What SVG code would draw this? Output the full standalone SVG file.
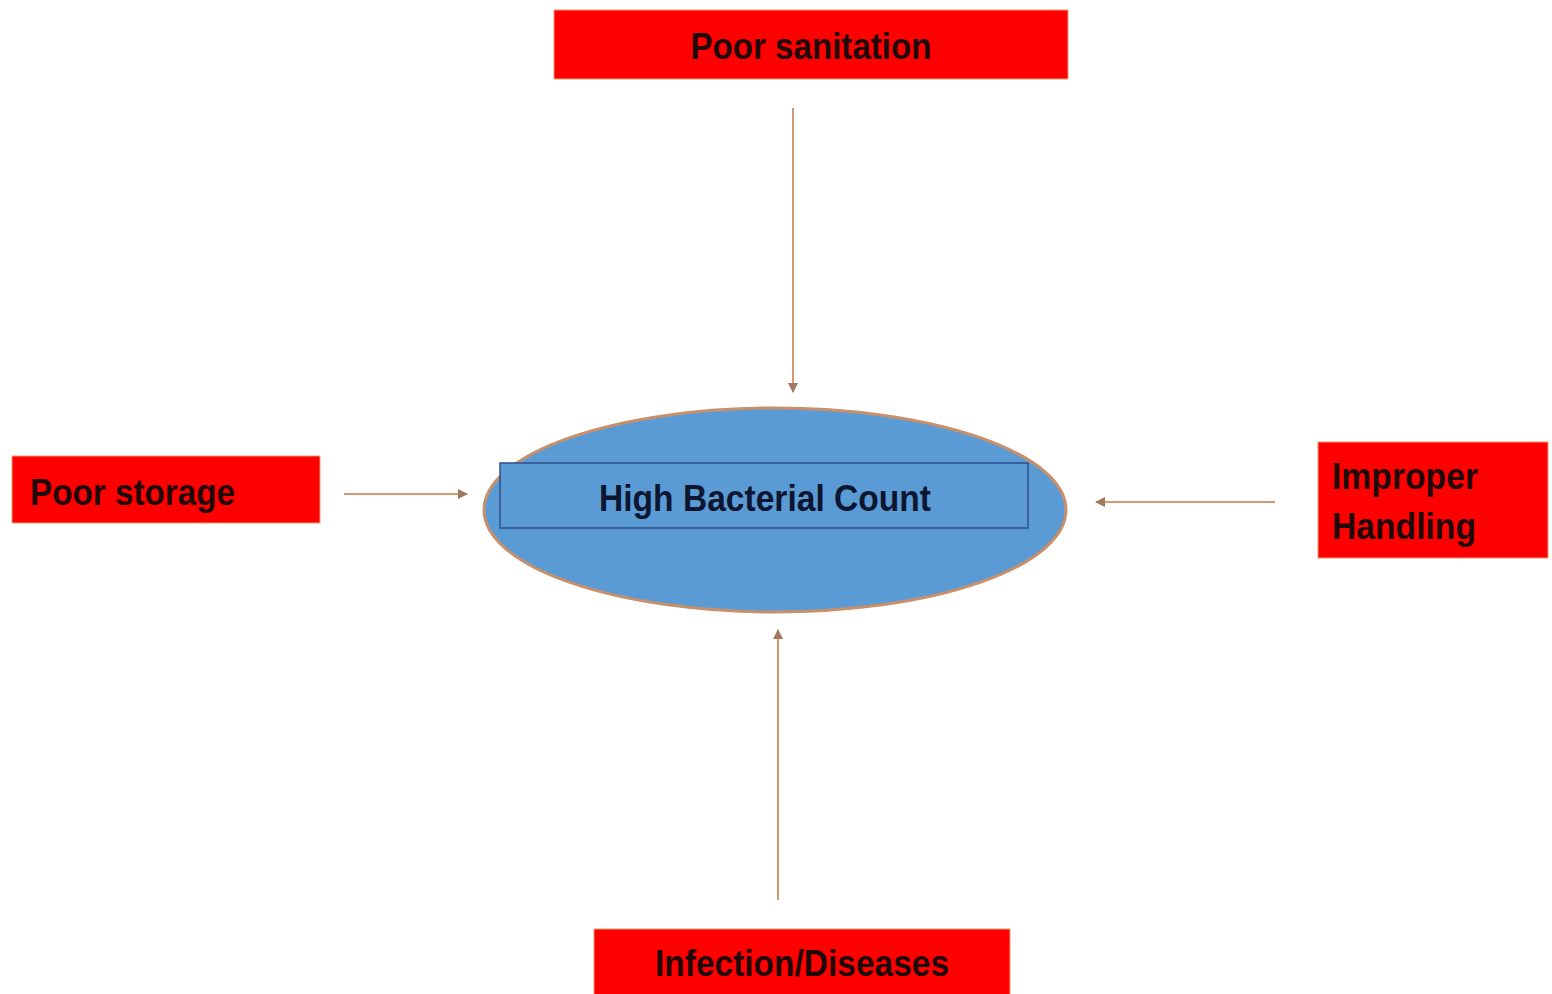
<svg xmlns="http://www.w3.org/2000/svg" width="1552" height="994" viewBox="0 0 1552 994">
<style>
.box{fill:#ff0000;stroke:#e8a070;stroke-width:1}
.lbl{font-family:"Liberation Sans",Arial,sans-serif;font-weight:bold;font-size:37px;fill:#1e0808}
.conn{stroke:#d29a72;stroke-width:2;fill:none}
</style>
<defs>
<marker id="ah" viewBox="0 0 10 10" refX="9" refY="5" markerWidth="5" markerHeight="5" orient="auto">
<path d="M0,0 L10,5 L0,10 z" fill="#a07860"/>
</marker>
</defs>
<rect width="1552" height="994" fill="#ffffff"/>
<g id="connectors">
<line class="conn" x1="793" y1="108" x2="793" y2="392" marker-end="url(#ah)"/>
<line class="conn" x1="344" y1="494" x2="467" y2="494" marker-end="url(#ah)"/>
<line class="conn" x1="1275" y1="502" x2="1096" y2="502" marker-end="url(#ah)"/>
<line class="conn" x1="778" y1="900" x2="778" y2="630" marker-end="url(#ah)"/>
</g>
<g id="center">
<ellipse cx="775" cy="510" rx="291" ry="102" fill="#5b9bd5" stroke="#c8906a" stroke-width="3"/>
<rect x="500" y="463" width="528" height="65" fill="#5b9bd5" stroke="#2f4f8f" stroke-width="1.5"/>
<text class="lbl" x="765" y="511" text-anchor="middle" style="fill:#0c1630" textLength="332" lengthAdjust="spacingAndGlyphs">High Bacterial Count</text>
</g>
<g id="poor-sanitation">
<rect class="box" x="554" y="10" width="514" height="69"/>
<text class="lbl" x="811" y="59" text-anchor="middle" textLength="241" lengthAdjust="spacingAndGlyphs">Poor sanitation</text>
</g>
<g id="poor-storage">
<rect class="box" x="12" y="456" width="308" height="67"/>
<text class="lbl" x="30" y="505" textLength="205" lengthAdjust="spacingAndGlyphs">Poor storage</text>
</g>
<g id="improper-handling">
<rect class="box" x="1318" y="442" width="230" height="116"/>
<text class="lbl" x="1332" y="489" textLength="146" lengthAdjust="spacingAndGlyphs">Improper</text>
<text class="lbl" x="1332" y="539" textLength="144" lengthAdjust="spacingAndGlyphs">Handling</text>
</g>
<g id="infection-diseases">
<rect class="box" x="594" y="929" width="416" height="70"/>
<text class="lbl" x="802" y="976" text-anchor="middle" textLength="294" lengthAdjust="spacingAndGlyphs">Infection/Diseases</text>
</g>
</svg>
